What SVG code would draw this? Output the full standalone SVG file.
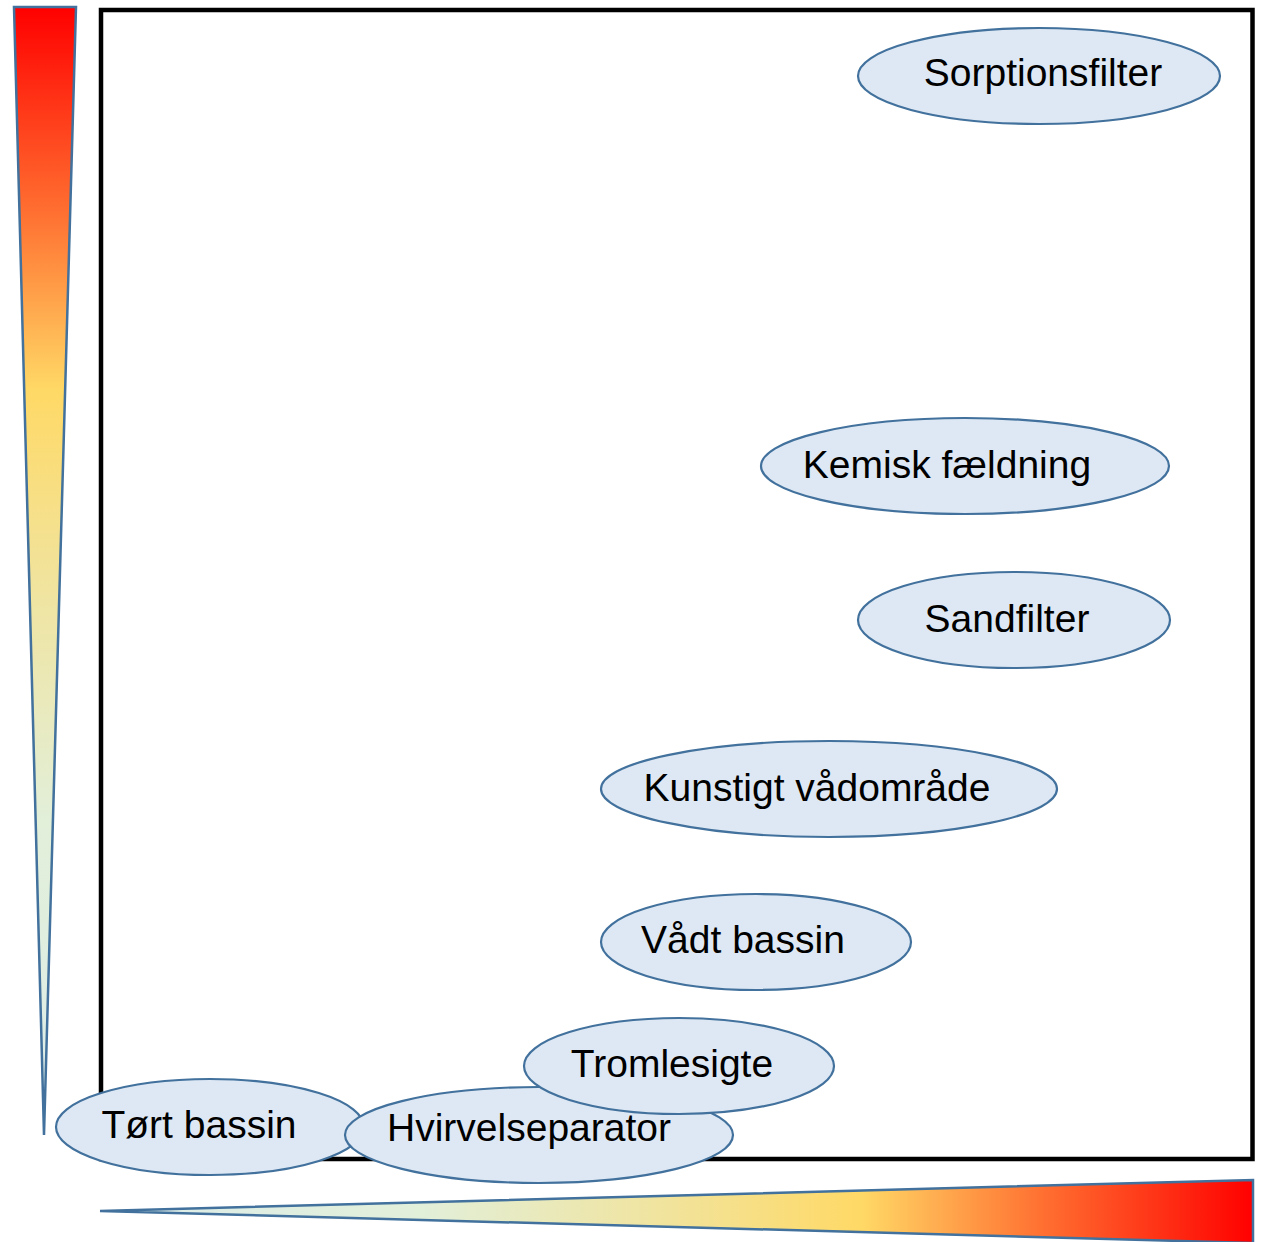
<svg xmlns="http://www.w3.org/2000/svg" width="1266" height="1242" viewBox="0 0 1266 1242">
<defs>
<linearGradient id="gv" x1="0" y1="7" x2="0" y2="1135" gradientUnits="userSpaceOnUse">
<stop offset="0" stop-color="#FF0000"/>
<stop offset="0.18" stop-color="#FF6E30"/>
<stop offset="0.34" stop-color="#FFD966"/>
<stop offset="0.52" stop-color="#F0E4A0"/>
<stop offset="0.72" stop-color="#E2EFD9"/>
<stop offset="1" stop-color="#DDEDEB"/>
</linearGradient>
<linearGradient id="gh" x1="1253" y1="0" x2="100" y2="0" gradientUnits="userSpaceOnUse">
<stop offset="0" stop-color="#FF0000"/>
<stop offset="0.18" stop-color="#FF6E30"/>
<stop offset="0.34" stop-color="#FFD966"/>
<stop offset="0.52" stop-color="#F0E4A0"/>
<stop offset="0.72" stop-color="#E2EFD9"/>
<stop offset="1" stop-color="#DDEDEB"/>
</linearGradient>
</defs>
<style>
.tri{stroke:#41719C;stroke-width:2.5;stroke-linejoin:miter}
.node ellipse{fill:#DEE8F4;stroke:#41719C;stroke-width:2.2}
.node text{font-family:"Liberation Sans",Arial,sans-serif;font-size:39px;fill:#000;text-anchor:middle}
</style>
<rect x="101" y="10" width="1151.5" height="1149" fill="none" stroke="#000" stroke-width="4.5"/>
<polygon class="tri" points="14,7 76,7 44,1135" fill="url(#gv)"/>
<polygon class="tri" points="100,1211 1253,1180 1253,1243" fill="url(#gh)"/>
<g id="connectors"></g>
<g id="n-sorptionsfilter" class="node"><ellipse cx="1039" cy="76" rx="181" ry="48"/><text x="1043" y="86">Sorptionsfilter</text></g>
<g id="n-kemisk" class="node"><ellipse cx="965" cy="466" rx="204" ry="48"/><text x="947" y="478">Kemisk fældning</text></g>
<g id="n-sandfilter" class="node"><ellipse cx="1014" cy="620" rx="156" ry="48"/><text x="1007" y="632">Sandfilter</text></g>
<g id="n-kunstigt" class="node"><ellipse cx="829" cy="789" rx="228" ry="48"/><text x="817" y="801">Kunstigt vådområde</text></g>
<g id="n-vaadt" class="node"><ellipse cx="756" cy="942" rx="155" ry="48"/><text x="743" y="953">Vådt bassin</text></g>
<g id="n-toert" class="node"><ellipse cx="210" cy="1127" rx="154" ry="48"/><text x="199" y="1138">Tørt bassin</text></g>
<g id="n-hvirvel" class="node"><ellipse cx="539" cy="1135" rx="194" ry="48"/><text x="529" y="1141">Hvirvelseparator</text></g>
<g id="n-tromle" class="node"><ellipse cx="679" cy="1066" rx="155" ry="48"/><text x="672" y="1077">Tromlesigte</text></g>
</svg>
